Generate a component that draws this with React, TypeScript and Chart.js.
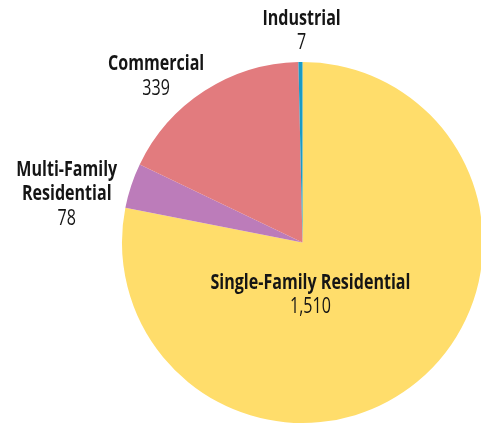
import React, { useEffect, useRef } from "react";
import { Chart, registerables } from "chart.js";

Chart.register(...registerables);

const categories = ["Single-Family Residential", "Multi-Family Residential", "Commercial", "Industrial"];
const labelLines = [["Single-Family Residential"], ["Multi-Family", "Residential"], ["Commercial"], ["Industrial"]];
const values = [1510, 78, 339, 7];
const valueLabels = ["1,510", "78", "339", "7"];
const colors = ["#FFDD6B", "#BC7CBA", "#E27B7E", "#1A9BC5"];
// label block centres, in units of the pie radius, relative to the pie centre
const labelOffsets: [number, number][] = [
  [0.044, 0.289],
  [-1.306, -0.267],
  [-0.811, -0.919],
  [-0.005, -1.172],
];

const FONT = '"Open Sans", "Noto Sans", sans-serif';
const FONT_SIZE = 21.5;
const LINE_H = 24.5;
const REF_TEXT = "Single-Family Residential";
const REF_WIDTH = 200;

const labelPlugin = {
  id: "pieLabels",
  afterDatasetsDraw(chart: any) {
    const ctx = chart.ctx;
    const meta = chart.getDatasetMeta(0);
    ctx.save();
    ctx.font = `bold ${FONT_SIZE}px ${FONT}`;
    const sx = REF_WIDTH / ctx.measureText(REF_TEXT).width;
    ctx.restore();
    meta.data.forEach((arc: any, i: number) => {
      const R = arc.outerRadius;
      const cx = arc.x + labelOffsets[i][0] * R;
      const cy = arc.y + labelOffsets[i][1] * R;
      const lines = labelLines[i].map((t) => ({ t, bold: true })).concat([{ t: valueLabels[i], bold: false }]);
      const top = cy - ((lines.length - 1) * LINE_H) / 2;
      lines.forEach((ln, k) => {
        ctx.save();
        ctx.fillStyle = "#151515";
        ctx.textAlign = "center";
        ctx.textBaseline = "middle";
        ctx.font = `${ln.bold ? "bold " : ""}${FONT_SIZE}px ${FONT}`;
        ctx.translate(cx, top + k * LINE_H);
        ctx.scale(sx, 1);
        ctx.fillText(ln.t, 0, 0);
        ctx.restore();
      });
    });
  },
};

export default function App() {
  const ref = useRef<HTMLCanvasElement>(null);
  useEffect(() => {
    if (!ref.current) return;
    const chart = new Chart(ref.current, {
      type: "pie",
      data: {
        labels: categories,
        datasets: [{ data: values, backgroundColor: colors, borderWidth: 0 }],
      },
      options: {
        responsive: false,
        animation: false,
        layout: { padding: { left: 122, top: 62, right: 1, bottom: 2 } },
        plugins: { legend: { display: false }, tooltip: { enabled: false } },
      },
      plugins: [labelPlugin],
    });
    return () => chart.destroy();
  }, []);
  return (
    <div style={{ position: "fixed", left: 0, top: 0, width: 481, height: 425, overflow: "hidden", background: "#fff" }}>
      <canvas ref={ref} width={484} height={425} style={{ display: "block" }} />
    </div>
  );
}
